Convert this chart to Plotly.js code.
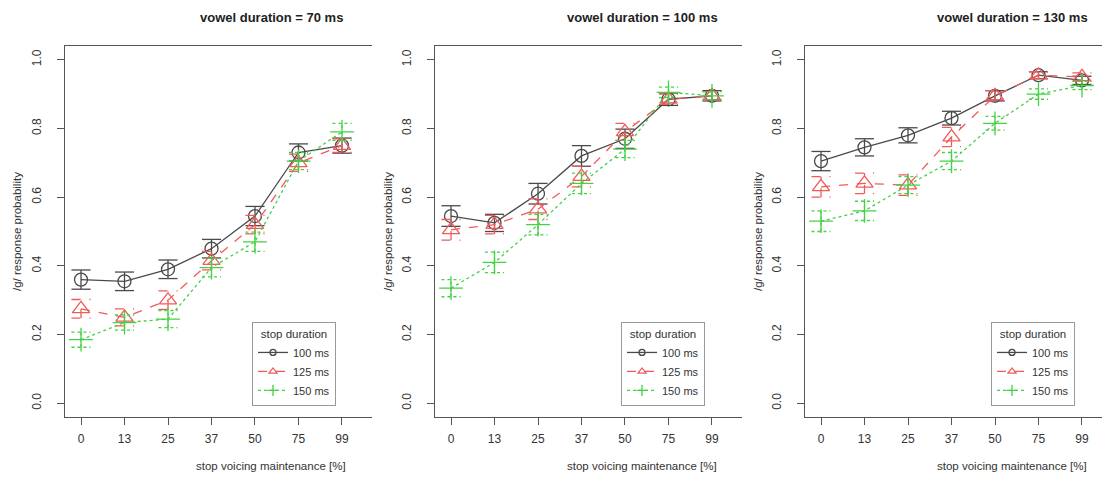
<!DOCTYPE html>
<html><head><meta charset="utf-8">
<script src="https://cdn.plot.ly/plotly-3.0.1.min.js"></script>
<style>html,body{margin:0;padding:0;background:#fff}#chart{width:1102px;height:477px}</style>
</head><body><div id="chart"></div>
<script>
// ---- data ----
const xLabels = ['0','13','25','37','50','75','99'];
const seriesNames = ['100 ms','125 ms','150 ms'];
const panelTitles = ['vowel duration = 70 ms','vowel duration = 100 ms','vowel duration = 130 ms'];
const xTitle = 'stop voicing maintenance [%]';
const yTitle = '/g/ response probability';
const legendTitle = 'stop duration';

// vowel 70 ms
const v70_s100 = [0.36, 0.355, 0.39, 0.45, 0.545, 0.73, 0.75];
const v70_s125 = [0.275, 0.25, 0.30, 0.415, 0.52, 0.70, 0.75];
const v70_s150 = [0.185, 0.235, 0.245, 0.395, 0.47, 0.705, 0.79];
const v70_e100 = [0.028, 0.027, 0.027, 0.027, 0.028, 0.025, 0.022];
const v70_e125 = [0.027, 0.025, 0.027, 0.027, 0.027, 0.025, 0.02];
const v70_e150 = [0.022, 0.022, 0.025, 0.027, 0.028, 0.025, 0.025];
// vowel 100 ms
const v100_s100 = [0.545, 0.525, 0.61, 0.72, 0.77, 0.885, 0.895];
const v100_s125 = [0.505, 0.52, 0.565, 0.66, 0.79, 0.885, 0.895];
const v100_s150 = [0.335, 0.41, 0.52, 0.64, 0.74, 0.905, 0.895];
const v100_e100 = [0.03, 0.025, 0.03, 0.03, 0.028, 0.018, 0.015];
const v100_e125 = [0.03, 0.027, 0.03, 0.03, 0.025, 0.015, 0.012];
const v100_e150 = [0.025, 0.03, 0.03, 0.03, 0.025, 0.015, 0.012];
// vowel 130 ms
const v130_s100 = [0.705, 0.745, 0.78, 0.83, 0.895, 0.955, 0.94];
const v130_s125 = [0.63, 0.64, 0.635, 0.775, 0.895, 0.955, 0.95];
const v130_s150 = [0.53, 0.56, 0.635, 0.705, 0.815, 0.90, 0.925];
const v130_e100 = [0.028, 0.025, 0.022, 0.02, 0.015, 0.01, 0.012];
const v130_e125 = [0.03, 0.03, 0.03, 0.028, 0.015, 0.01, 0.012];
const v130_e150 = [0.03, 0.028, 0.025, 0.025, 0.02, 0.015, 0.012];

const panels = [
  {vals:[v70_s100, v70_s125, v70_s150], errs:[v70_e100, v70_e125, v70_e150]},
  {vals:[v100_s100, v100_s125, v100_s150], errs:[v100_e100, v100_e125, v100_e150]},
  {vals:[v130_s100, v130_s125, v130_s150], errs:[v130_e100, v130_e125, v130_e150]}
];

// ---- styles ----
const W = 1102, H = 477;
const FONT = 'Liberation Sans, Arial, sans-serif';
const colors = ['#4a4a4a', '#f25a5a', '#45d045'];
const dashes = ['solid', 'dash', 'dot'];
const symbols = ['circle-open', 'triangle-up-open', 'cross-thin-open'];
const msizes = [13, 15, 17];
const legendSizes = [6, 7, 8];
const capHalf = 0.22; // cap half width in x units
const px = [[65, 372], [435, 742], [805, 1102]];
const xRanges = [[0.632, 7.69], [0.632, 7.69], [0.632, 7.46]];
const legendRight = [336, 705, 1075];
const plotTop = 46, plotBot = 417;
const ph = plotBot - plotTop;
const titleCenters = [271, 642, 1012];
const yTitleX = [17, 388, 758];

const xpos = xLabels.map((_, i) => i + 1);
const traces = [];
panels.forEach((p, pi) => {
  const ax = pi === 0 ? '' : String(pi + 1);
  p.vals.forEach((vals, si) => {
    const errs = p.errs[si];
    const ex = [], ey = [];
    xpos.forEach((x, i) => {
      const lo = vals[i] - errs[i], hi = vals[i] + errs[i];
      ex.push(x, x, null, x - capHalf, x + capHalf, null, x - capHalf, x + capHalf, null);
      ey.push(lo, hi, null, lo, lo, null, hi, hi, null);
    });
    traces.push({
      x: ex, y: ey, xaxis: 'x' + ax, yaxis: 'y' + ax, mode: 'lines',
      line: {color: colors[si], width: 1.3, dash: dashes[si]},
      showlegend: false, hoverinfo: 'skip', connectgaps: false
    });
    traces.push({
      x: xpos, y: vals, xaxis: 'x' + ax, yaxis: 'y' + ax,
      mode: 'lines+markers', name: seriesNames[si], showlegend: false,
      line: {color: colors[si], width: 1.3, dash: dashes[si]},
      marker: {symbol: symbols[si], size: msizes[si], color: colors[si],
               line: {color: colors[si], width: 1.3}}
    });
  });
  // legend entries (small symbols as in the reference legend)
  seriesNames.forEach((nm, si) => {
    traces.push({
      x: [null], y: [null], xaxis: 'x' + ax, yaxis: 'y' + ax,
      mode: 'lines+markers', name: nm,
      legend: pi === 0 ? 'legend' : 'legend' + (pi + 1),
      line: {color: colors[si], width: 1.3, dash: dashes[si]},
      marker: {symbol: symbols[si], size: legendSizes[si], color: colors[si],
               line: {color: colors[si], width: 1.3}}
    });
  });
});

const layout = {
  width: W, height: H,
  margin: {l: 0, r: 0, t: plotTop, b: H - plotBot, pad: 0},
  paper_bgcolor: '#fff', plot_bgcolor: '#fff',
  font: {family: FONT, size: 12, color: '#333'},
  annotations: []
};
panels.forEach((p, pi) => {
  const ax = pi === 0 ? '' : String(pi + 1);
  layout['xaxis' + ax] = {
    domain: [px[pi][0] / W, px[pi][1] / W], range: xRanges[pi],
    anchor: 'y' + ax, tickmode: 'array', tickvals: xpos, ticktext: xLabels,
    showline: true, linecolor: '#555', linewidth: 1, mirror: true,
    ticks: 'outside', ticklen: 7, tickcolor: '#555', showgrid: false, zeroline: false,
    ticklabelstandoff: 4, tickfont: {size: 12, color: '#333'}, fixedrange: true
  };
  layout['yaxis' + ax] = {
    domain: [0, 1], range: [-0.04, 1.04], anchor: 'x' + ax,
    tickmode: 'array', tickvals: [0, 0.2, 0.4, 0.6, 0.8, 1.0],
    ticktext: ['0.0', '0.2', '0.4', '0.6', '0.8', '1.0'],
    tickangle: -90, showline: true, linecolor: '#555', linewidth: 1, mirror: false,
    ticks: 'outside', ticklen: 7, tickcolor: '#555', showgrid: false, zeroline: false,
    ticklabelstandoff: 11, tickfont: {size: 12, color: '#333'}, fixedrange: true
  };
  layout[pi === 0 ? 'legend' : 'legend' + (pi + 1)] = {
    x: legendRight[pi] / W, xanchor: 'right', xref: 'paper',
    y: (plotBot - 406) / ph, yanchor: 'bottom', yref: 'paper',
    bgcolor: '#fff', bordercolor: '#999', borderwidth: 1,
    font: {size: 11, color: '#333'}, itemwidth: 30, tracegroupgap: 0,
    title: {text: legendTitle, side: 'top center', font: {size: 11.5, color: '#333'}}
  };
  layout.annotations.push({
    text: '<b>' + panelTitles[pi] + '</b>', xref: 'paper', yref: 'paper',
    x: titleCenters[pi] / W, y: (plotBot - 17) / ph, xanchor: 'center', yanchor: 'middle',
    showarrow: false, font: {size: 13, color: '#222'}
  });
  layout.annotations.push({
    text: xTitle, xref: 'paper', yref: 'paper',
    x: titleCenters[pi] / W, y: (plotBot - 466) / ph, xanchor: 'center', yanchor: 'middle',
    showarrow: false, font: {size: 11.5, color: '#333'}
  });
  layout.annotations.push({
    text: yTitle, xref: 'paper', yref: 'paper', textangle: -90,
    x: yTitleX[pi] / W, y: (plotBot - 232) / ph, xanchor: 'center', yanchor: 'middle',
    showarrow: false, font: {size: 11.5, color: '#333'}
  });
});

Plotly.newPlot('chart', traces, layout, {staticPlot: true, displayModeBar: false});
</script></body></html>
